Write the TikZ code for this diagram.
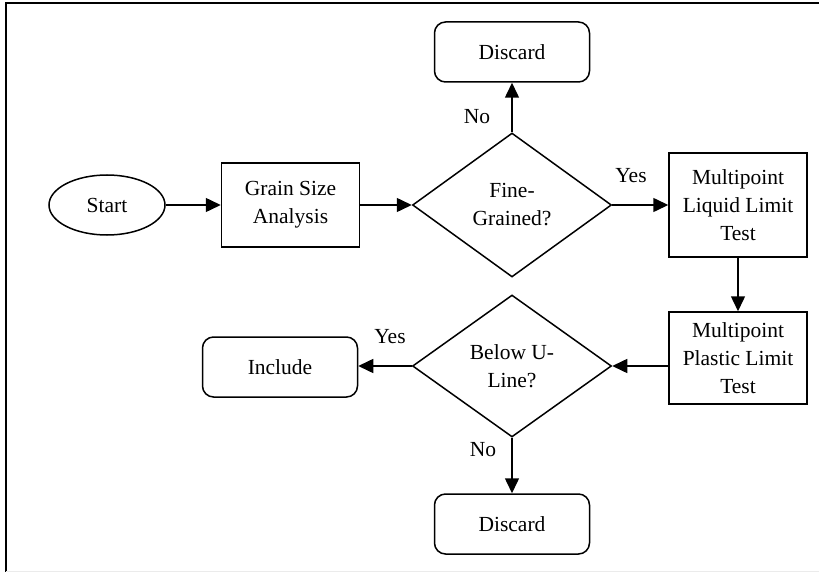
\documentclass[tikz,border=0pt]{standalone}
\usepackage{fontspec}
\setmainfont{Liberation Serif}
\usetikzlibrary{shapes.geometric,arrows.meta}
\begin{document}
\begin{tikzpicture}[x=1pt,y=-1pt,
  every node/.style={font=\fontsize{21.5}{28}\selectfont, align=center, inner sep=0pt},
  box/.style={draw, line width=1.5pt, minimum width=138pt, minimum height=#1},
  rbox/.style={draw, line width=1.5pt, rounded corners=11pt, minimum width=155pt, minimum height=60pt},
  dec/.style={draw, line width=1.5pt, diamond, aspect=#1},
  term/.style={draw, line width=1.5pt, ellipse, minimum width=116pt, minimum height=60pt},
  flow/.style={line width=1.5pt, -{Triangle[length=15pt,width=14pt]}},
  lbl/.style={font=\fontsize{21.5}{24}\selectfont}
]
\useasboundingbox (0,0) rectangle (819,572);
\draw[line width=2pt, black] (819,3) -- (6,3) -- (6,572);
\draw[line width=1pt, black!8] (6,571) -- (819,571);

\node[term] (start) at (107,205) {Start};
\node[box=84pt] (grain) at (290.5,205) {Grain Size\\Analysis};
\node[dec=1.38, minimum width=199pt, minimum height=144pt] (fine) at (512,205) {\fontsize{21.5}{30}\selectfont Fine-\\Grained?};
\node[rbox] (disc1) at (512,52) {Discard};
\node[box=104pt] (liquid) at (738,205) {Multipoint\\Liquid Limit\\Test};
\node[box=92pt] (plastic) at (738,358) {Multipoint\\Plastic Limit\\Test};
\node[dec=1.40, minimum width=199pt, minimum height=142pt] (below) at (512,366) {Below U-\\Line?};
\node[rbox] (incl) at (280,367) {Include};
\node[rbox] (disc2) at (512,524) {Discard};

\draw[flow] (start.east) -- (grain.west);
\draw[flow] (grain.east) -- (fine.west);
\draw[flow] (fine.east) -- (liquid.west);
\draw[flow] (fine.north) -- (disc1.south);
\draw[flow] (liquid.south) -- (plastic.north);
\draw[flow] (plastic.west |- below.east) -- (below.east);
\draw[flow] (below.west) -- (incl.east |- below.west);
\draw[flow] (below.south) -- (disc2.north);

\node[lbl] (yes1) at (631,176) {Yes};
\node[lbl] (no1) at (477,117) {No};
\node[lbl] (yes2) at (390,337) {Yes};
\node[lbl] (no2) at (483,450) {No};
\end{tikzpicture}
\end{document}
